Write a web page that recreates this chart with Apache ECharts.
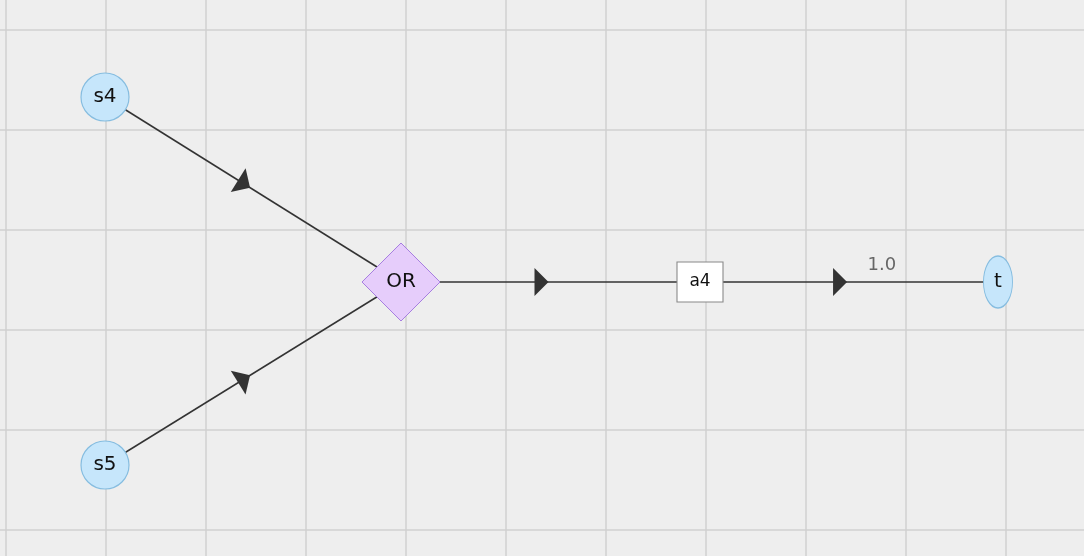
<!DOCTYPE html>
<html><head><meta charset="utf-8">
<script src="https://cdn.jsdelivr.net/npm/echarts@6/dist/echarts.min.js"></script>
<style>html,body{margin:0;padding:0;background:#eeeeee}#c{width:1084px;height:556px}</style>
</head><body><div id="c"></div>
<script>
const nodeNames = ["s4", "s5", "OR", "a4", "t"]
const nodeX = [105, 105, 401, 700, 998]
const nodeY = [97, 465, 282, 282, 282]
const links = [["s4", "OR", ""], ["s5", "OR", ""], ["OR", "a4", ""], ["a4", "t", "1.0"]]
const gridXs = [6, 106, 206, 306, 406, 506, 606, 706, 806, 906, 1006]
const gridYs = [30, 130, 230, 330, 430, 530]

const circle = { symbol: "circle", symbolSize: 48, itemStyle: { color: "#c6e6fb", borderColor: "#86bde0", borderWidth: 1.2 } }
const styles = {
    s4: circle, s5: circle,
    OR: { symbol: "diamond", symbolSize: [78, 78], itemStyle: { color: "#e6cdfb", borderColor: "#a77ee0", borderWidth: 1 } },
    a4: { symbol: "rect", symbolSize: [46, 40], itemStyle: { color: "#ffffff", borderColor: "#888", borderWidth: 1 } },
    t: { symbol: "circle", symbolSize: [29, 52], itemStyle: { color: "#c6e6fb", borderColor: "#86bde0", borderWidth: 1.2 } }
}
const pos = {}
nodeNames.forEach((n, i) => pos[n] = [nodeX[i], nodeY[i]])

const gridLines = []
gridXs.forEach(x => gridLines.push({ coords: [[x, 0], [x, 556]] }))
gridYs.forEach(y => gridLines.push({ coords: [[0, y], [1084, y]] }))

// arrow heads near the middle of each edge
const arrows = links.map(([a, b]) => {
    const [x1, y1] = pos[a], [x2, y2] = pos[b]
    const f = 0.47
    const ang = Math.atan2(-(y2 - y1), x2 - x1) * 180 / Math.PI
    return { value: [x1 + (x2 - x1) * f, y1 + (y2 - y1) * f], symbolRotate: ang - 90 }
})
// edge labels, sitting a bit past the middle, above the line
const edgeLabels = links.filter(l => l[2]).map(([a, b, l]) => {
    const [x1, y1] = pos[a], [x2, y2] = pos[b]
    return { value: [x1 + (x2 - x1) * 0.61, y1 + (y2 - y1) * 0.61], name: l }
})

const chart = echarts.init(document.getElementById("c"))
chart.setOption({
    backgroundColor: "#eeeeee",
    animation: false,
    grid: { left: 0, right: 0, top: 0, bottom: 0 },
    xAxis: { type: "value", min: 0, max: 1084, show: false },
    yAxis: { type: "value", min: 0, max: 556, inverse: true, show: false },
    series: [
        {
            type: "lines", coordinateSystem: "cartesian2d", silent: true, z: 1,
            lineStyle: { color: "#d0d0d0", width: 1.5, opacity: 1 },
            data: gridLines
        },
        {
            type: "graph", coordinateSystem: "cartesian2d", layout: "none", z: 2,
            data: nodeNames.map((n, i) => Object.assign({
                name: n, value: [nodeX[i], nodeY[i]],
                label: { show: true, position: "inside", color: "#111", fontSize: n === "a4" ? 17 : 20, fontFamily: "DejaVu Sans" }
            }, styles[n])),
            links: links.map(([s, t]) => ({ source: s, target: t })),
            lineStyle: { color: "#333", width: 1.5, opacity: 1 }
        },
        {
            type: "scatter", z: 3, silent: true,
            symbol: "path://M0,14 L15,0 L30,14 Z",
            symbolSize: [28, 14],
            itemStyle: { color: "#333", opacity: 1 },
            data: arrows
        },
        {
            type: "scatter", z: 3, silent: true, symbolSize: 0,
            label: { show: true, formatter: "{b}", position: "top", distance: 8, color: "#444", fontSize: 18, fontFamily: "DejaVu Sans" },
            data: edgeLabels
        }
    ]
})
</script></body></html>
